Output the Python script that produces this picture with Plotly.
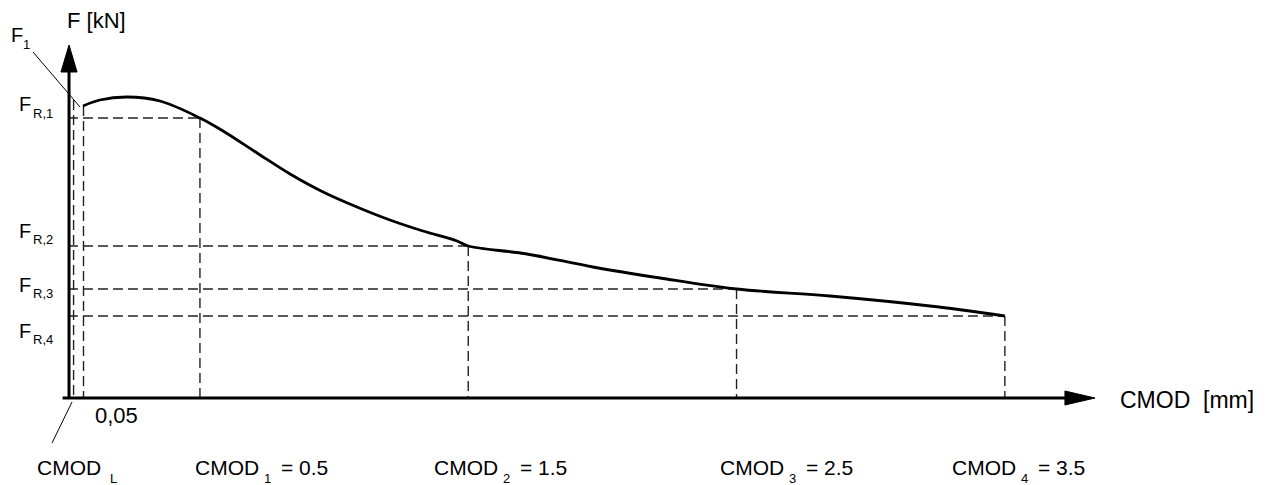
import plotly.graph_objects as go

# ---------------- data (schematic units) ----------------
curve_x = [0.064, 0.127, 0.228, 0.351, 0.5, 0.586, 0.713, 0.836, 0.959, 1.085, 1.208,
           1.331, 1.458, 1.5, 1.719, 1.965, 2.215, 2.5, 2.848, 3.221, 3.5]
curve_y = [2.92, 2.98, 3.01, 2.97, 2.80, 2.67, 2.45, 2.24, 2.06, 1.91, 1.78,
           1.67, 1.57, 1.52, 1.44, 1.31, 1.20, 1.09, 1.02, 0.92, 0.82]

cmod_values = [0.5, 1.5, 2.5, 3.5]          # CMOD_1..CMOD_4 [mm]
f_residual = [2.80, 1.52, 1.09, 0.82]       # F_R,1..F_R,4
cmod_subs = ["1", "2", "3", "4"]
cmod_texts = ["= 0.5", "= 1.5", "= 2.5", "= 3.5"]
fr_subs = ["R,1", "R,2", "R,3", "R,4"]

cmod_L = 0.029      # CMOD_L dashed line
cmod_005 = 0.066    # 0,05 mark
f_L_top = 2.98
f_1 = 2.92

# axis geometry (schematic units)
x_axis_start, x_axis_end = -0.012, 3.836
y_axis_x = 0.012
y_axis_top = 3.53

# page-pixel -> schematic-unit helpers (for label placement only)
def X(px):
    return (px - 65.8) / 268.3

def Y(py):
    return (398 - py) / 100.0

FONT = "Liberation Sans, Arial, Helvetica, sans-serif"
DASH = "10px,5px"
DCOL = "#222222"

fig = go.Figure()

def add_line(xs, ys, width=1.4, dash=DASH, color=DCOL):
    fig.add_trace(go.Scatter(x=xs, y=ys, mode="lines", hoverinfo="skip",
                             line=dict(color=color, width=width, dash=dash),
                             showlegend=False))

# dashed guides
for cx, fr in zip(cmod_values, f_residual):
    add_line([y_axis_x - 0.004, cx], [fr, fr])
    add_line([cx, cx], [fr, 0])
add_line([cmod_L, cmod_L], [f_L_top, 0])
add_line([cmod_005, cmod_005], [f_1, 0])

# main curve
fig.add_trace(go.Scatter(x=curve_x, y=curve_y, mode="lines", hoverinfo="skip",
                         line=dict(color="black", width=2.8, shape="spline", smoothing=1.0),
                         showlegend=False))

# axes
add_line([y_axis_x, y_axis_x], [0, y_axis_top - 0.26], width=3, dash="solid", color="black")
add_line([x_axis_start, x_axis_end - 0.1], [0, 0], width=3, dash="solid", color="black")

# arrow heads
aw, ah = 0.03, 0.27
fig.add_trace(go.Scatter(x=[y_axis_x - aw, y_axis_x, y_axis_x + aw, y_axis_x - aw],
                         y=[y_axis_top - ah, y_axis_top, y_axis_top - ah, y_axis_top - ah],
                         mode="lines", fill="toself", fillcolor="black",
                         line=dict(color="black", width=1), hoverinfo="skip", showlegend=False))
bw, bh = 0.112, 0.07
fig.add_trace(go.Scatter(x=[x_axis_end - bw, x_axis_end, x_axis_end - bw, x_axis_end - bw],
                         y=[bh, 0, -bh, bh],
                         mode="lines", fill="toself", fillcolor="black",
                         line=dict(color="black", width=1), hoverinfo="skip", showlegend=False))

# leader lines
add_line([X(33), X(80)], [Y(52), Y(107)], width=1, dash="solid", color="black")
add_line([X(72), X(52)], [Y(402), Y(443)], width=1, dash="solid", color="black")

ann = []
def text(px, py, s, size=20, xanchor="left", yanchor="middle"):
    ann.append(dict(x=X(px), y=Y(py), text=s, showarrow=False, xanchor=xanchor, yanchor=yanchor,
                    font=dict(family=FONT, size=size, color="black")))

# y-axis title
text(65, 20, "F [kN]", size=22)
# F1
text(8.5, 34.5, "F", size=20)
text(21, 44.5, "1", size=13)
# F_R labels
for sub, fy in zip(fr_subs, [104, 230.5, 284.5, 330.5]):
    text(17, fy, "F", size=20)
    text(31, fy + 9, sub, size=13)

text(93, 415, "0,05", size=22)
text(1118, 400, "CMOD&nbsp;&nbsp;[mm]", size=23)

# bottom labels
text(35, 467, "CMOD", size=21)
text(108, 478, "L", size=13)
for sub, txt, lx in zip(cmod_subs, cmod_texts, [193, 432, 718, 950]):
    text(lx, 467, "CMOD", size=21)
    text(lx + 69, 478, sub, size=13)
    text(lx + 86, 467, txt, size=21)

# the page body has an 8 px margin: map page pixels 8..1272 / 8..485
fig.update_layout(
    width=1264, height=477,
    margin=dict(l=0, r=0, t=0, b=0),
    plot_bgcolor="white", paper_bgcolor="white",
    xaxis=dict(range=[X(8), X(1272)], visible=False, fixedrange=True),
    yaxis=dict(range=[Y(485), Y(8)], visible=False, fixedrange=True),
    annotations=ann,
    showlegend=False,
)

fig.write_html("out.html")
